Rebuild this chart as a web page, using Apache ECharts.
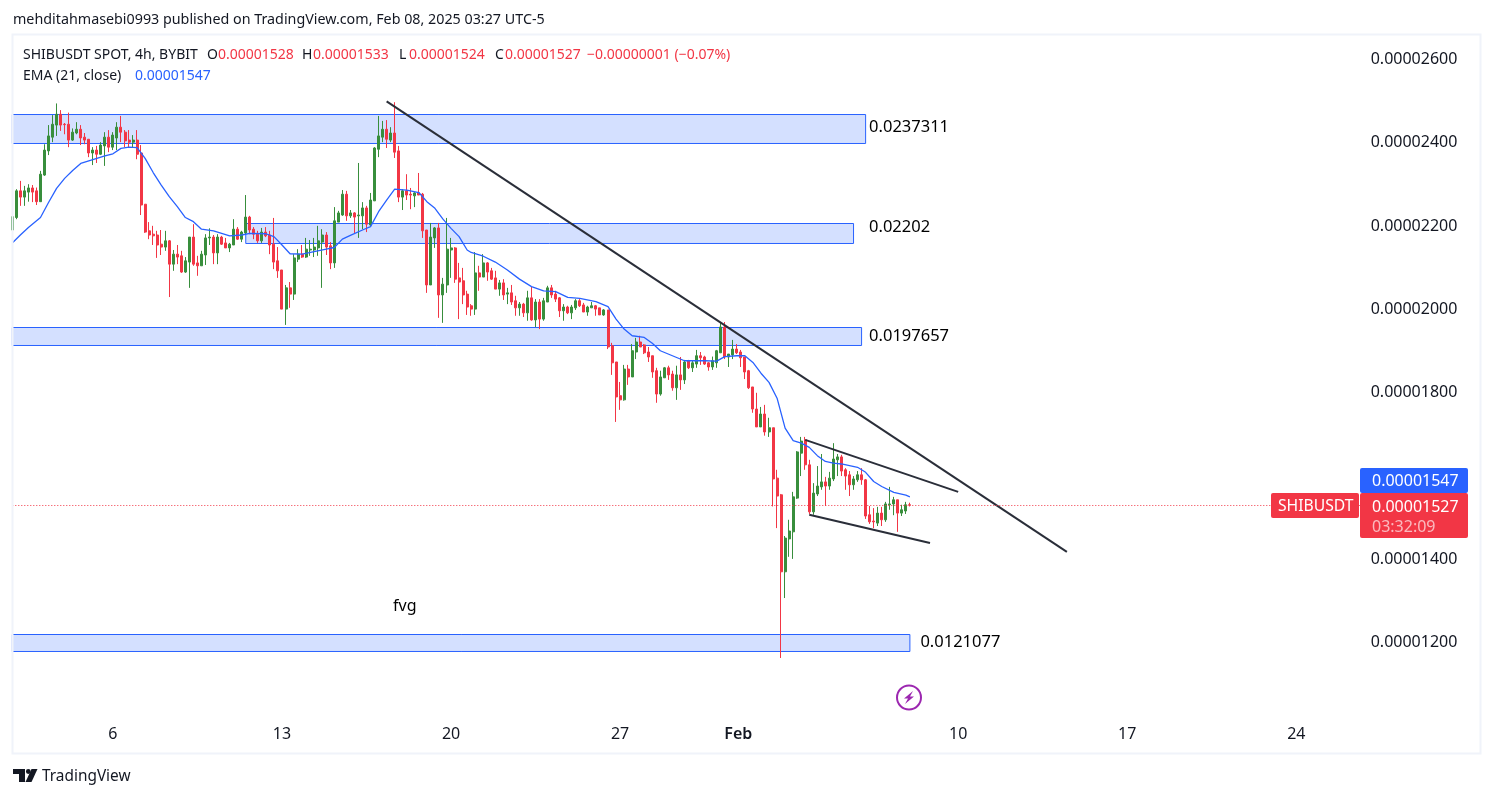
<!DOCTYPE html>
<html>
<head>
<meta charset="utf-8">
<title>SHIBUSDT</title>
<style>
html, body { margin: 0; padding: 0; background: #fff; }
#main { width: 1494px; height: 798px; }
</style>
<script src="https://cdn.jsdelivr.net/npm/echarts@6/dist/echarts.min.js"></script>
</head>
<body>
<div id="main"></div>
<script>
// all prices in units of 0.00000001
var direction = ('G' + 'GRGGRRGGGG' + 'GRRRGGRRRG' + 'RGGRGGRRRG' + 'RRRRRRRGRG' + 'RRGGRRGGGR' +
	'GRRGGRGGRR' + 'RGRRRRRGRG' + 'GRGGGGGRRG' + 'GGRGRGGRGG' + 'GGRGRRGRRG' +
	'RRRGGRGGGR' + 'RRRRGRGRRR' + 'GRGRRGRGRG' + 'RGGRRRGRGG' + 'RRGGRRGRRR' +
	'RGRGGRRRRR' + 'GGRRGRGRGG' + 'RRRGGGRGGR' + 'RRRRRGRGRR' + 'RGGGGGRRGG' +
	'GRGGGRRRGG' + 'RRRRGRGGGR' + 'GGR').split('');
var highs = [2225,
	2286,2306,2294,2298,2296,2290,2330,2394,2440,2464,
	2492,2476,2445,2470,2432,2447,2440,2421,2406,2387,
	2390,2399,2423,2428,2423,2447,2462,2428,2428,2416,
	2428,2392,2250,2207,2198,2186,2188,2186,2164,2140,
	2152,2138,2123,2171,2202,2126,2138,2178,2192,2176,
	2178,2174,2169,2157,2214,2195,2186,2272,2222,2195,
	2186,2193,2195,2186,2217,2147,2092,2056,2063,2130,
	2142,2152,2169,2164,2169,2198,2190,2183,2159,2243,
	2234,2284,2282,2236,2231,2349,2255,2246,2277,2387,
	2462,2450,2452,2435,2495,2390,2286,2322,2289,2279,
	2325,2277,2188,2205,2195,2205,2073,2217,2169,2147,
	2109,2097,2042,2010,2135,2102,2130,2111,2097,2090,
	2068,2070,2049,2056,2030,2015,2013,2042,2051,2022,
	2022,2025,2054,2056,2042,2027,2010,2006,2008,2022,
	2022,2013,2006,2015,2008,2001,1998,1996,1917,1871,
	1823,1864,1864,1914,1929,1934,1914,1907,1886,1857,
	1850,1859,1862,1850,1862,1883,1876,1876,1874,1900,
	1895,1886,1871,1884,1900,1967,1967,1890,1924,1914,
	1900,1883,1852,1811,1797,1763,1768,1737,1713,1612,
	1554,1453,1492,1559,1657,1691,1691,1636,1580,1621,
	1650,1595,1607,1676,1650,1648,1616,1609,1597,1609,
	1616,1590,1525,1520,1523,1523,1535,1571,1547,1540,
	1528,1535,1533];
var bodyTop = [2220,
	2282,2282,2282,2289,2289,2282,2322,2380,2414,2442,
	2466,2466,2442,2442,2423,2430,2430,2411,2406,2380,
	2380,2392,2411,2411,2416,2435,2435,2423,2404,2404,
	2404,2373,2250,2186,2178,2176,2154,2162,2162,2130,
	2130,2126,2114,2171,2171,2109,2130,2169,2171,2171,
	2171,2171,2157,2154,2190,2190,2183,2219,2219,2190,
	2178,2183,2183,2176,2154,2114,2092,2049,2049,2121,
	2130,2130,2142,2142,2147,2162,2176,2176,2150,2210,
	2229,2274,2274,2229,2229,2224,2241,2241,2260,2385,
	2414,2430,2430,2421,2421,2378,2282,2282,2274,2277,
	2277,2274,2188,2171,2193,2193,2058,2142,2145,2145,
	2073,2066,2034,2006,2085,2085,2109,2109,2090,2073,
	2061,2061,2037,2037,2018,2010,2010,2025,2025,2015,
	2015,2018,2049,2049,2034,2025,2003,2003,2003,2018,
	2018,2008,2003,2006,2006,2001,1996,1996,1910,1871,
	1790,1854,1854,1898,1919,1919,1912,1895,1886,1850,
	1835,1857,1857,1842,1840,1840,1871,1874,1869,1886,
	1886,1883,1869,1874,1898,1955,1955,1890,1902,1902,
	1895,1883,1850,1811,1758,1746,1746,1713,1713,1592,
	1552,1448,1465,1547,1655,1681,1684,1624,1556,1573,
	1583,1583,1592,1638,1643,1643,1612,1600,1590,1600,
	1600,1588,1504,1489,1508,1508,1530,1530,1540,1540,
	1516,1528,1528];
var bodyBottom = [2188,
	2218,2267,2267,2279,2279,2256,2256,2320,2378,2411,
	2440,2440,2441,2404,2404,2421,2409,2404,2373,2373,
	2370,2370,2390,2387,2387,2409,2423,2402,2399,2399,
	2370,2248,2183,2176,2174,2152,2147,2147,2106,2106,
	2123,2087,2087,2111,2106,2102,2102,2128,2169,2133,
	2133,2154,2145,2145,2152,2166,2166,2181,2188,2178,
	2162,2162,2174,2152,2111,2090,1998,1998,2034,2034,
	2118,2123,2123,2140,2140,2145,2159,2147,2109,2109,
	2207,2224,2222,2222,2219,2222,2222,2202,2200,2258,
	2382,2411,2406,2404,2375,2267,2267,2272,2272,2270,
	2272,2186,2056,2056,2169,2032,2032,2056,2140,2070,
	2063,2032,2003,1998,1998,2075,2075,2087,2070,2046,
	2046,2032,2034,2015,2001,2001,1989,1989,1972,1972,
	1974,1974,2015,2032,2022,1994,1994,1989,1989,2001,
	2006,1991,1991,2001,1998,1984,1984,1907,1869,1787,
	1780,1780,1835,1835,1895,1907,1893,1883,1847,1794,
	1794,1833,1840,1809,1809,1828,1828,1857,1857,1866,
	1881,1866,1859,1859,1869,1893,1883,1883,1888,1893,
	1881,1847,1809,1758,1715,1715,1703,1703,1590,1549,
	1367,1367,1446,1463,1544,1652,1624,1511,1511,1554,
	1571,1573,1573,1590,1636,1609,1597,1576,1576,1588,
	1588,1501,1487,1487,1484,1492,1492,1528,1530,1508,
	1508,1513,1527];
var lows = [2185,
	2214,2246,2246,2256,2255,2248,2256,2318,2368,2399,
	2414,2426,2418,2387,2402,2418,2392,2394,2363,2344,
	2349,2368,2342,2375,2380,2380,2399,2387,2387,2387,
	2358,2224,2181,2166,2152,2121,2128,2138,2027,2090,
	2106,2085,2085,2049,2102,2078,2102,2104,2152,2106,
	2106,2152,2145,2135,2152,2164,2159,2176,2178,2166,
	2157,2157,2171,2130,2094,2073,1998,1960,2001,2020,
	2111,2121,2121,2126,2123,2126,2049,2128,2094,2097,
	2207,2222,2210,2217,2181,2169,2190,2183,2198,2258,
	2363,2399,2385,2399,2361,2255,2236,2260,2238,2243,
	2272,2169,2037,2056,2145,1977,1965,2037,2073,2061,
	1974,2010,1984,1982,1984,2042,2075,2066,2068,2046,
	2030,2020,2010,2008,1982,1982,1979,1970,1970,1955,
	1950,1970,2015,2025,2015,1979,1970,1986,1974,1996,
	2003,1991,1982,2001,1982,1984,1982,1902,1840,1727,
	1756,1778,1816,1835,1878,1907,1890,1871,1833,1773,
	1790,1833,1828,1802,1780,1804,1818,1854,1847,1857,
	1864,1864,1850,1852,1857,1893,1878,1859,1878,1890,
	1859,1830,1806,1749,1715,1715,1694,1691,1524,1472,
	1160,1304,1403,1398,1542,1597,1612,1506,1504,1549,
	1564,1525,1564,1585,1597,1597,1564,1549,1564,1583,
	1576,1494,1482,1472,1477,1477,1487,1516,1503,1463,
	1501,1506,1524];

var emaIndex = [0,2,4,7,9,11,13,15,17,20,23,25,27,29,31,33,35,37,39,41,43,45,47,50,54,57,
	59,63,65,67,69,72,75,78,80,82,84,87,89,91,93,95,98,101,103,105,107,109,111,113,
	114,117,120,123,126,129,132,135,138,141,145,148,150,152,154,157,159,161,164,167,
	172,175,177,180,182,184,186,188,190,192,194,196,198,200,202,204,206,208,210,212,214,216,219,222,223];
var emaValues = [2157,2176,2194,2218,2254,2288,2312,2331,2348,2357,2366,2371,2384,2387,2386,2360,2326,2296,2268,2244,2218,2208,2190,2186,2174,2176,
	2180,2179,2172,2152,2131,2130,2136,2142,2146,2166,2175,2188,2196,2232,2260,2286,2284,2278,2256,2240,2214,2192,2172,2140,
	2134,2125,2111,2092,2070,2052,2042,2040,2026,2024,2016,2004,1974,1950,1934,1930,1916,1898,1886,1874,
	1874,1873,1884,1886,1886,1870,1844,1822,1784,1712,1682,1676,1666,1646,1632,1628,1626,1622,1618,1606,1584,1572,1558,1551,1547];

var lastPrice = 1527;

// drawn rectangles
var zoneStart = [0, 58, 0, 0];
var zoneEnd = [212, 209, 211, 223];
var zoneTop = [2465.4, 2203.6, 1953.8, 1216.4];
var zoneBottom = [2395.8, 2155.6, 1910.6, 1175.6];
var zoneLabels = ['0.0237311', '0.02202', '0.0197657', '0.0121077'];

// drawn trend lines: start index, start price, end index, end price
var trendLines = [
	[93, 2497, 262, 1415],
	[197, 1684, 235, 1559],
	[198, 1504, 228, 1436]
];

var tickIndex = [25, 67, 109, 151, 181, 235, 277, 319];
var tickLabels = ['6', '13', '20', '27', 'Feb', '10', '17', '24'];

var categories = [];
for (var k = 0; k < 336; k++) {
	categories.push(new Date(Date.UTC(2025, 0, 2, 4 + 4 * (k - 1))).toISOString().slice(0, 16));
}

var candleData = direction.map(function(d, i) {
	return d === 'G' ? [bodyBottom[i], bodyTop[i], lows[i], highs[i]] : [bodyTop[i], bodyBottom[i], lows[i], highs[i]];
});
// the last candle has its real open from the legend
candleData[candleData.length - 1] = [1528, 1527, 1524, 1533];

var labelDistance = [3, 15, 7, 10];
var labelShift = [-2, -6, 0, -1];
var zones = zoneStart.map(function(s, i) {
	return [{
		name: zoneLabels[i],
		coord: [s, zoneTop[i]],
		label: {distance: labelDistance[i], offset: [0, labelShift[i]]}
	}, {
		coord: [zoneEnd[i], zoneBottom[i]]
	}];
});

var dark = '#131722', red = '#F23645', blue = '#2962FF', green = '#388E3C';
var font = '"Noto Sans", sans-serif';

function txt(x, y, str, color, size, extra) {
	var style = {x: x, y: y, text: str, fill: color || dark, font: (size || 14) + 'px ' + font, verticalAlign: 'middle', align: 'left'};
	for (var key in extra) style[key] = extra[key];
	return {type: 'text', z: 100, silent: true, style: style};
}
function rect(x, y, w, h, fill, r) {
	return {type: 'rect', z: 99, silent: true, shape: {x: x, y: y, width: w, height: h, r: r || 0}, style: {fill: fill}};
}

var chrome = [
	{type: 'rect', z: 50, silent: true, shape: {x: 12.5, y: 34.5, width: 1468, height: 719}, style: {fill: 'none', stroke: '#F0F3FA', lineWidth: 2}},
	txt(13, 20, 'mehditahmasebi0993 published on TradingView.com, Feb 08, 2025 03:27 UTC-5', dark, 14.3),
	txt(23, 55, 'SHIBUSDT SPOT, 4h, BYBIT', dark, 14),
	txt(207, 55, 'O', dark, 14), txt(218, 55, '0.00001528', red, 14),
	txt(302, 55, 'H', dark, 14), txt(313, 55, '0.00001533', red, 14),
	txt(399, 55, 'L', dark, 14), txt(409, 55, '0.00001524', red, 14),
	txt(495, 55, 'C', dark, 14), txt(505, 55, '0.00001527', red, 14),
	txt(587, 55, '\u22120.00000001 (\u22120.07%)', red, 14),
	txt(23, 76, 'EMA (21, close)', dark, 14),
	txt(135, 76, '0.00001547', blue, 14),
	txt(393, 606, 'fvg', '#000', 16),
	// price tags
	rect(1360, 468, 108, 25, blue, 2),
	txt(1372, 481, '0.00001547', '#fff', 16),
	rect(1271, 493, 88, 25, red, 2),
	txt(1278, 507, 'SHIBUSDT', '#fff', 15.7),
	rect(1360, 493, 108, 45, red, 2),
	txt(1372, 507, '0.00001527', '#fff', 16),
	txt(1372, 527, '03:32:09', 'rgba(255,255,255,0.65)', 16),
	// bolt badge
	{type: 'circle', z: 99, silent: true, shape: {cx: 909, cy: 697.5, r: 12}, style: {fill: '#fff', stroke: '#9C27B0', lineWidth: 2}},
	{type: 'polygon', z: 100, silent: true, shape: {points: [[913, 691], [904, 698.5], [908, 698.5], [905, 704], [914, 696.5], [910, 696.5]]}, style: {fill: '#9C27B0'}},
	// logo
	{type: 'polygon', z: 100, silent: true, shape: {points: [[13, 769], [25, 769], [25, 782], [19, 782], [19, 774], [13, 774]]}, style: {fill: dark}},
	{type: 'circle', z: 100, silent: true, shape: {cx: 28.3, cy: 771.5, r: 2.4}, style: {fill: dark}},
	{type: 'polygon', z: 100, silent: true, shape: {points: [[31.5, 769], [37.5, 769], [31.5, 782], [25.5, 782]]}, style: {fill: dark}},
	txt(42, 777, 'TradingView', dark, 15.4)
];

var myChart = echarts.init(document.getElementById('main'), null, {renderer: 'canvas'});
var option = {
	animation: false,
	backgroundColor: '#fff',
	grid: {left: 12.3, top: 33.5, width: 1348.4, height: 691.1, containLabel: false},
	xAxis: {
		type: 'category',
		boundaryGap: false,
		data: categories,
		axisLine: {show: false},
		axisTick: {show: false},
		splitLine: {show: false},
		axisLabel: {
			margin: 2,
			color: dark,
			fontSize: 16,
			fontFamily: font,
			interval: function(index) {
				return tickIndex.indexOf(index) >= 0;
			},
			formatter: function(value, index) {
				var label = tickLabels[tickIndex.indexOf(index)];
				return label === 'Feb' ? '{b|Feb}' : label;
			},
			rich: {b: {fontWeight: 600, fontSize: 16, fontFamily: font, color: dark, padding: [0, 5, 0, 0]}}
		}
	},
	yAxis: {
		type: 'value',
		position: 'right',
		min: 1000,
		max: 2660,
		interval: 200,
		scale: true,
		axisLine: {show: false},
		axisTick: {show: false},
		splitLine: {show: false},
		axisLabel: {
			margin: 10,
			color: dark,
			fontSize: 16,
			fontFamily: font,
			showMinLabel: false,
			showMaxLabel: false,
			formatter: function(v) {
				// 1600 sits under the EMA and price tags
				return v === 1600 ? '' : '{p|' + (v / 1e8).toFixed(8) + '}';
			},
			rich: {p: {fontSize: 16, fontFamily: font, color: dark, padding: [2, 0, 0, 0]}}
		}
	},
	series: [
		{
			name: 'SHIBUSDT',
			type: 'candlestick',
			barWidth: 2.5,
			data: candleData,
			itemStyle: {color: green, color0: red, borderColor: green, borderColor0: red, borderWidth: 1},
			markArea: {
				silent: true,
				itemStyle: {color: 'rgba(41,98,255,0.2)', borderColor: blue, borderWidth: 1},
				label: {show: true, position: 'right', formatter: '{b}', color: '#000', fontSize: 16.5, fontFamily: font},
				data: zones
			},
			markLine: {
				silent: true,
				symbol: 'none',
				animation: false,
				label: {show: false},
				lineStyle: {color: '#2A2E39', width: 2, type: 'solid'},
				data: trendLines.map(function(t) {
					return [{coord: [t[0], t[1]]}, {coord: [t[2], t[3]]}];
				}).concat([
					{yAxis: lastPrice, lineStyle: {color: red, width: 1, type: [1, 2]}}
				])
			}
		},
		{
			name: 'EMA (21, close)',
			type: 'line',
			data: emaIndex.map(function(x, i) {
				return [x, emaValues[i]];
			}),
			showSymbol: false,
			symbol: 'none',
			silent: true,
			lineStyle: {color: blue, width: 1.3},
			z: 3
		}
	],
	graphic: chrome
};
myChart.setOption(option);
</script>
</body>
</html>
